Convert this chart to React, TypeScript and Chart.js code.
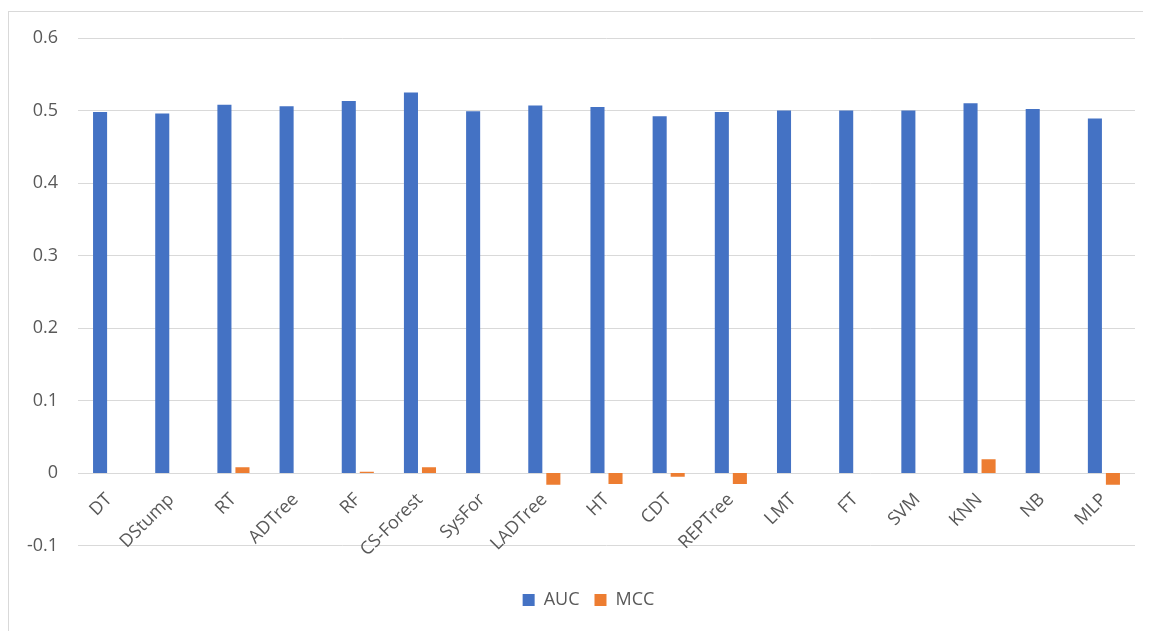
import React, { useEffect, useRef } from 'react';
import { Chart, registerables } from 'chart.js';

Chart.register(...registerables);

const categories = ['DT', 'DStump', 'RT', 'ADTree', 'RF', 'CS-Forest', 'SysFor', 'LADTree', 'HT', 'CDT', 'REPTree', 'LMT', 'FT', 'SVM', 'KNN', 'NB', 'MLP'];
const aucValues = [0.498, 0.496, 0.508, 0.506, 0.513, 0.525, 0.499, 0.507, 0.505, 0.492, 0.498, 0.5, 0.5, 0.5, 0.51, 0.502, 0.489];
const mccValues = [0, 0, 0.008, 0, 0.002, 0.008, 0, -0.016, -0.015, -0.005, -0.015, 0, 0, 0, 0.019, 0, -0.016];
const yMin = -0.1;
const yMax = 0.6;
const yStep = 0.1;

const FONT = '"Open Sans", "Noto Sans", sans-serif';
const TEXT = '#595959';
const GRID = '#d9d9d9';

const legendShift = {
  id: 'legendShift',
  afterLayout(chart: any) {
    const lg = chart.legend;
    if (lg) lg.left += 24;
  },
};

export default function App() {
  const ref = useRef<HTMLCanvasElement | null>(null);

  useEffect(() => {
    if (!ref.current) return;
    const chart = new Chart(ref.current, {
      type: 'bar',
      data: {
        labels: categories,
        datasets: [
          { label: 'AUC', data: aucValues, backgroundColor: '#4472C4', categoryPercentage: 0.58, barPercentage: 0.78 },
          { label: 'MCC', data: mccValues, backgroundColor: '#ED7D31', categoryPercentage: 0.58, barPercentage: 0.78 },
        ],
      },
      options: {
        animation: false,
        responsive: false,
        maintainAspectRatio: false,
        layout: { padding: { top: 26, left: 9, right: 16, bottom: 12 } },
        plugins: {
          legend: {
            position: 'bottom',
            title: { display: true, text: '', font: { size: 12 }, padding: { top: 16, bottom: 0 } },
            labels: {
              font: { family: FONT, size: 18 },
              color: TEXT,
              boxWidth: 12,
              boxHeight: 12,
              padding: 15,
            },
          },
          tooltip: { enabled: false },
        },
        scales: {
          x: {
            position: { y: 0 } as any,
            grid: { display: false },
            border: { display: false },
            ticks: {
              font: { family: FONT, size: 18 },
              color: TEXT,
              maxRotation: 45,
              minRotation: 45,
              padding: 8,
              autoSkip: false,
            },
          },
          y: {
            min: yMin,
            max: yMax,
            grid: { color: GRID, drawTicks: true, tickLength: 18, tickColor: 'rgba(0,0,0,0)' },
            border: { display: false },
            ticks: {
              stepSize: yStep,
              font: { family: FONT, size: 18 },
              color: TEXT,
              padding: 2,
              callback: (v: any) => String(Number(Number(v).toFixed(1))),
            },
            afterFit: (scale: any) => {
              scale.width = 60;
            },
          },
        },
      },
      plugins: [legendShift],
    });
    return () => chart.destroy();
  }, []);

  return (
    <div style={{ marginTop: 3, borderTop: `1px solid ${GRID}`, borderLeft: `1px solid ${GRID}`, width: 1142, height: 619, overflow: 'hidden' }}>
      <canvas ref={ref} width={1142} height={619} style={{ display: 'block' }} />
    </div>
  );
}
